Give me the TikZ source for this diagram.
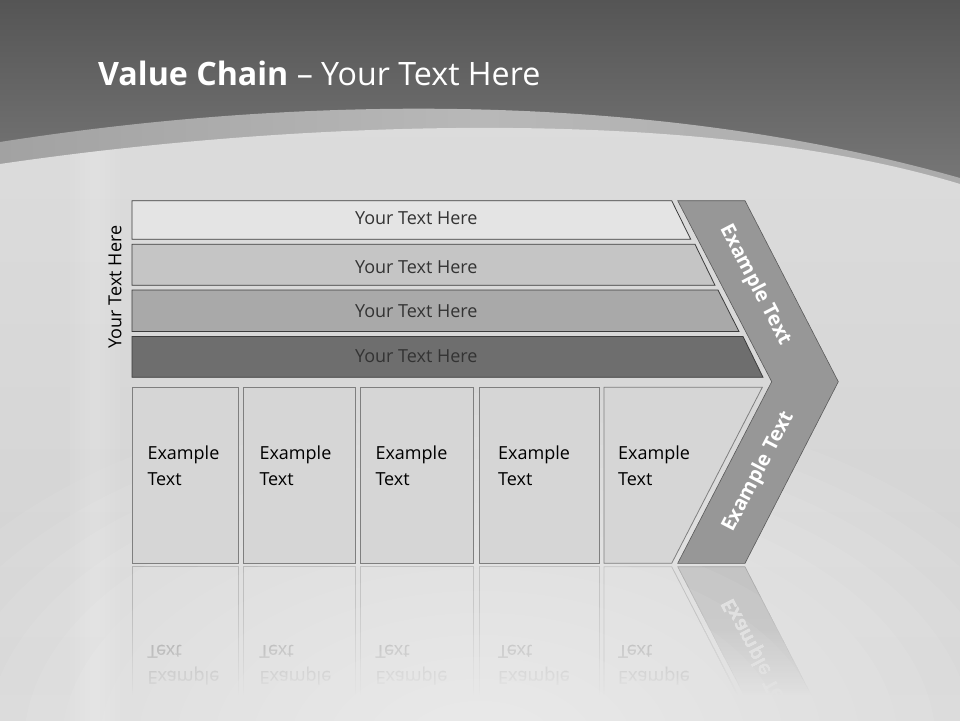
\documentclass[tikz,border=0pt]{standalone}
\usepackage{fontspec}
\setmainfont{Open Sans}
\definecolor{topdark}{HTML}{555555}
\definecolor{topmid}{HTML}{7A7A7A}
\definecolor{bandL}{HTML}{A2A2A2}
\definecolor{bandM}{HTML}{B8B8B8}
\definecolor{bandR}{HTML}{ABABAB}
\definecolor{silvertop}{HTML}{DCDCDC}
\definecolor{silverbot}{HTML}{D2D2D2}
\definecolor{fadecol}{HTML}{D4D4D4}
\definecolor{barA}{HTML}{E4E4E4}
\definecolor{barB}{HTML}{C5C5C5}
\definecolor{barC}{HTML}{A9A9A9}
\definecolor{barD}{HTML}{6E6E6E}
\definecolor{barline}{HTML}{3C3C3C}
\definecolor{bartxt}{HTML}{333333}
\definecolor{boxfill}{HTML}{D6D6D6}
\definecolor{boxline}{HTML}{7F7F7F}
\definecolor{chevfill}{HTML}{979797}
\definecolor{chevline}{HTML}{5A5A5A}
\tikzset{
  barshape/.style={draw=barline, line width=0.8pt},
  bartext/.style={font=\fontsize{18}{22}\selectfont, text=bartxt, inner sep=0pt},
  boxshape/.style={draw=boxline, fill=boxfill, line width=0.8pt},
  boxtext/.style={font=\fontsize{18}{26}\selectfont, text=black, align=left, anchor=base west, inner sep=0pt},
  chevshape/.style={fill=chevfill, draw=chevline, line width=0.6pt},
  chevtext/.style={font=\bfseries\fontsize{20}{24}\selectfont, text=white, inner sep=0pt}
}
\newcommand\boxesandchev[1]{%
  \path[boxshape] (132,387.3) rectangle (238.3,563.3);
  \path[boxshape] (243.3,387.3) rectangle (355.3,563.3);
  \path[boxshape] (360.3,387.3) rectangle (473.3,563.3);
  \path[boxshape] (479,387.3) rectangle (599,563.3);
  \path[boxshape] (604,387.3) -- (762.3,387.3) -- (671.7,563.3) -- (604,563.3) -- cycle;
  \path[chevshape] (677.7,200.7) -- (745,200.7) -- (838.3,381.7) -- (745,563.3) -- (677.7,563.3) -- (771.7,381.7) -- cycle;
  \node[boxtext,transform shape] (#1t1) at (147.3,485) {Example\\Text};
  \node[boxtext,transform shape] (#1t2) at (259.3,485) {Example\\Text};
  \node[boxtext,transform shape] (#1t3) at (375.3,485) {Example\\Text};
  \node[boxtext,transform shape] (#1t4) at (498,485) {Example\\Text};
  \node[boxtext,transform shape] (#1t5) at (618,485) {Example\\Text};
  \node[chevtext,rotate=62.5,transform shape] (#1cb) at (758.5,472) {Example Text};
}
\newcommand\silverregion{(0,164) .. controls (300,120) and (700,105) .. (960,184) -- (960,730) -- (0,730) -- cycle}
\begin{document}
\begin{tikzpicture}[x=1pt,y=-1pt]
\useasboundingbox (0,0) rectangle (960,720);
% background
\shade[top color=topdark, bottom color=topmid] (0,0) rectangle (960,200);
\shade[left color=bandL, right color=bandR, middle color=bandM]
  (0,142) .. controls (300,95) and (650,90) .. (960,178) -- (960,730) -- (0,730) -- cycle;
\shade[top color=silvertop, bottom color=silverbot] \silverregion;
% reflection
\begin{scope}
  \clip (0,565) rectangle (960,698);
  \begin{scope}[opacity=0.62, yshift=-1130pt, yscale=-1]
    \boxesandchev{r}
  \end{scope}
\end{scope}
\foreach \n in {1,...,65} {
  \pgfmathsetmacro\al{1/(66-\n)}
  \fill[fadecol, opacity=\al] (0,{565+2*\n}) rectangle (960,730);
}
% light
\begin{scope}
  \clip \silverregion;
  \foreach \k in {1,...,16} {
    \fill[white, opacity=0.06] (480,745) ellipse [x radius={38*\k}, y radius={22*\k}];
  }
  \foreach \k in {1,...,5} {
    \fill[white, opacity=0.05] ({95-5*\k},150) rectangle ({95+5*\k},730);
  }
\end{scope}
% title
\node[anchor=base west, inner sep=0pt, text=white, font=\fontsize{32.2}{38}\selectfont] (title) at (98,85) {\textbf{Value Chain} – Your Text Here};
% bars
\path[barshape, fill=barA] (132,200.7) -- (671.7,200.7) -- (690.7,239.3) -- (132,239.3) -- cycle;
\path[barshape, fill=barB] (132,244.3) -- (695,244.3) -- (715,285.3) -- (132,285.3) -- cycle;
\path[barshape, fill=barC] (132,290) -- (718,290) -- (739,331.5) -- (132,331.5) -- cycle;
\path[barshape, fill=barD] (132,336.5) -- (743,336.5) -- (763,377.3) -- (132,377.3) -- cycle;
\node[bartext] (b1) at (416.3,218.5) {Your Text Here};
\node[bartext] (b2) at (416.3,266.7) {Your Text Here};
\node[bartext] (b3) at (416.3,311) {Your Text Here};
\node[bartext] (b4) at (416.3,356) {Your Text Here};
\node[bartext, text=black, rotate=90] (side) at (115,287) {Your Text Here};
% boxes and chevron
\boxesandchev{m}
\node[chevtext, rotate=-62.5] (ct) at (755,285) {Example Text};
\end{tikzpicture}
\end{document}
